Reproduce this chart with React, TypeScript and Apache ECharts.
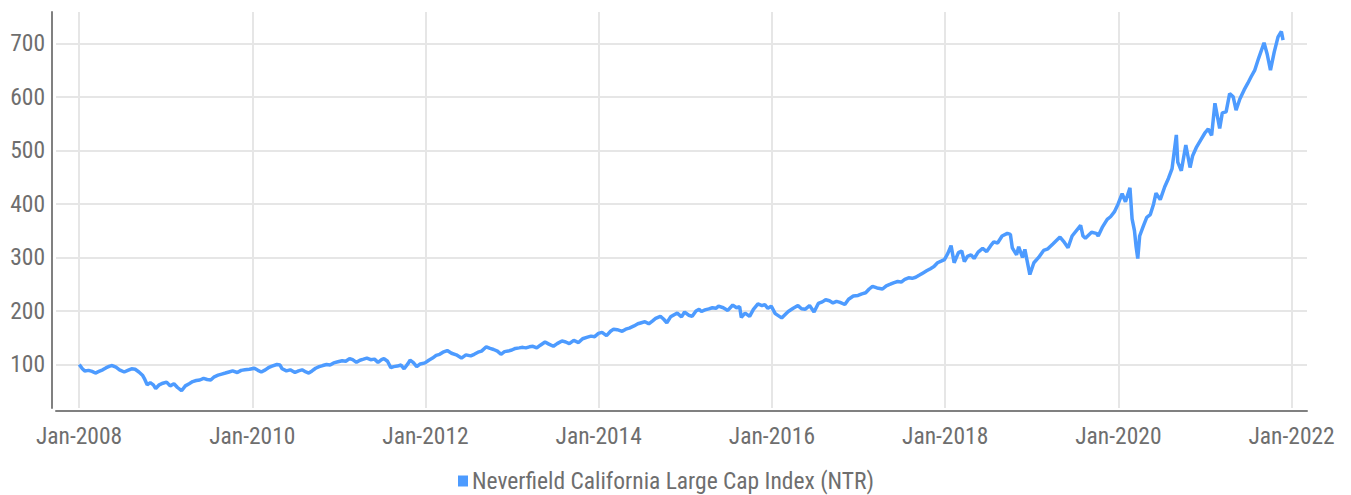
import React, { useEffect, useRef } from "react";
import * as echarts from "echarts";

const SERIES_NAME = "Neverfield California Large Cap Index (NTR)";

const dates: string[] = [
  "2008-01-02","2008-01-15","2008-01-25","2008-02-10","2008-02-25","2008-03-10","2008-03-25","2008-04-10","2008-04-25","2008-05-10","2008-05-20","2008-06-05","2008-06-20","2008-07-10","2008-07-25","2008-08-10","2008-08-25","2008-09-10","2008-09-25","2008-10-05","2008-10-15","2008-10-28","2008-11-10","2008-11-20","2008-12-05","2008-12-20",
  "2009-01-05","2009-01-20","2009-02-05","2009-02-20","2009-03-09","2009-03-25","2009-04-10","2009-04-25","2009-05-10","2009-05-25","2009-06-10","2009-06-25","2009-07-10","2009-07-25","2009-08-10","2009-08-25","2009-09-10","2009-09-25","2009-10-10","2009-10-30","2009-11-15","2009-12-01","2009-12-20",
  "2010-01-10","2010-01-25","2010-02-08","2010-02-25","2010-03-10","2010-03-25","2010-04-15","2010-04-28","2010-05-07","2010-05-25","2010-06-10","2010-06-30","2010-07-15","2010-07-30","2010-08-15","2010-08-27","2010-09-10","2010-09-25","2010-10-10","2010-10-25","2010-11-10","2010-11-25","2010-12-10","2010-12-28",
  "2011-01-15","2011-01-30","2011-02-15","2011-02-28","2011-03-16","2011-03-31","2011-04-15","2011-04-29","2011-05-15","2011-05-31","2011-06-15","2011-06-30","2011-07-10","2011-07-25","2011-08-08","2011-08-20","2011-09-05","2011-09-20","2011-10-03","2011-10-20","2011-10-28","2011-11-10","2011-11-25","2011-12-10","2011-12-30",
  "2012-01-15","2012-01-31","2012-02-15","2012-03-01","2012-03-15","2012-04-02","2012-04-20","2012-05-10","2012-06-01","2012-06-20","2012-07-10","2012-07-25","2012-08-10","2012-08-25","2012-09-14","2012-09-30","2012-10-15","2012-10-31","2012-11-15","2012-11-30","2012-12-15","2012-12-31",
  "2013-01-15","2013-01-31","2013-02-15","2013-02-28","2013-03-15","2013-03-30","2013-04-15","2013-04-30","2013-05-20","2013-06-05","2013-06-24","2013-07-10","2013-07-30","2013-08-15","2013-08-30","2013-09-18","2013-10-08","2013-10-25","2013-11-15","2013-11-30","2013-12-15","2013-12-31",
  "2014-01-15","2014-02-03","2014-02-20","2014-03-05","2014-03-20","2014-04-10","2014-04-25","2014-05-10","2014-05-30","2014-06-15","2014-06-30","2014-07-15","2014-07-31","2014-08-15","2014-08-29","2014-09-18","2014-10-01","2014-10-15","2014-10-31","2014-11-15","2014-11-28","2014-12-16","2014-12-29",
  "2015-01-15","2015-01-30","2015-02-15","2015-02-28","2015-03-10","2015-03-25","2015-04-10","2015-04-25","2015-05-10","2015-05-21","2015-06-10","2015-06-29","2015-07-20","2015-08-05","2015-08-18","2015-08-25","2015-09-10","2015-09-29","2015-10-15","2015-11-03","2015-11-20","2015-12-02","2015-12-15","2015-12-29",
  "2016-01-15","2016-02-11","2016-02-25","2016-03-10","2016-03-31","2016-04-20","2016-05-05","2016-05-20","2016-06-08","2016-06-27","2016-07-15","2016-08-01","2016-08-15","2016-08-31","2016-09-15","2016-09-30","2016-10-15","2016-11-04","2016-11-20","2016-12-10","2016-12-30",
  "2017-01-15","2017-01-31","2017-02-15","2017-03-01","2017-03-20","2017-04-12","2017-04-28","2017-05-15","2017-05-31","2017-06-15","2017-06-30","2017-07-15","2017-07-31","2017-08-15","2017-08-30","2017-09-15","2017-09-30","2017-10-15","2017-10-31","2017-11-15","2017-11-30","2017-12-15","2017-12-29",
  "2018-01-12","2018-01-26","2018-02-08","2018-02-26","2018-03-12","2018-03-23","2018-04-05","2018-04-20","2018-05-03","2018-05-20","2018-06-08","2018-06-25","2018-07-12","2018-07-25","2018-08-10","2018-08-29","2018-09-20","2018-10-03","2018-10-11","2018-10-29","2018-11-07","2018-11-23","2018-12-03","2018-12-24",
  "2019-01-10","2019-01-30","2019-02-20","2019-03-10","2019-03-31","2019-04-30","2019-05-15","2019-06-03","2019-06-20","2019-07-26","2019-08-05","2019-08-15","2019-09-10","2019-09-30","2019-10-08","2019-10-25","2019-11-15","2019-11-29","2019-12-15","2019-12-31",
  "2020-01-17","2020-01-31","2020-02-19","2020-02-28","2020-03-09","2020-03-16","2020-03-23","2020-03-31","2020-04-15","2020-04-30","2020-05-15","2020-05-29","2020-06-08","2020-06-26","2020-07-15","2020-07-31","2020-08-15","2020-09-02","2020-09-08","2020-09-23","2020-10-12","2020-10-30","2020-11-10","2020-11-25","2020-12-15","2020-12-31",
  "2021-01-15","2021-01-29","2021-02-12","2021-03-04","2021-03-15","2021-03-31","2021-04-15","2021-04-30","2021-05-12","2021-05-28","2021-06-15","2021-06-30","2021-07-15","2021-07-30","2021-08-15","2021-09-07","2021-09-20","2021-10-04","2021-10-20","2021-11-05","2021-11-19","2021-11-26",
];

const values: number[] = [
  100,92,88,89,87,84,87,90,94,97,98,95,90,86,89,92,91,86,80,72,62,66,62,55,62,65,
  67,60,64,57,51,60,64,68,70,71,74,72,71,77,80,82,84,86,88,85,89,90,91,
  93,89,86,90,94,97,100,99,92,88,90,85,88,90,86,84,88,93,96,98,100,99,103,105,
  107,106,111,109,104,108,110,112,109,110,104,109,111,106,94,96,97,99,92,102,108,104,96,101,103,
  108,112,117,119,123,126,121,118,112,118,116,119,123,125,133,130,128,125,119,124,125,127,
  130,131,132,131,133,134,131,136,142,138,134,139,144,142,139,145,141,148,151,153,152,158,
  160,154,162,166,165,162,166,168,172,176,178,180,176,181,186,190,185,178,189,193,196,189,198,
  192,190,200,203,199,202,204,206,205,209,206,201,211,206,208,188,196,190,203,213,210,212,205,209,
  195,187,193,199,205,210,204,203,210,198,214,217,221,219,215,218,216,212,222,228,229,
  232,234,241,246,243,241,247,250,253,255,254,259,262,261,263,267,271,275,279,283,290,293,296,
  307,322,290,309,312,292,302,305,298,310,317,311,322,329,327,340,345,343,318,305,320,300,315,268,
  290,300,313,316,325,338,330,318,340,360,340,336,347,345,340,356,371,376,385,400,
  419,404,430,372,350,320,298,340,358,375,380,400,420,408,432,448,466,529,478,462,510,468,490,505,520,532,
  540,528,588,541,570,572,606,600,575,596,613,625,638,650,672,701,680,650,684,712,722,706,
];

const yTickStep = 100;
const xTickStepYears = 2;

function toDecimalYear(d: string): number {
  const [y, m, day] = d.split("-").map(Number);
  const start = Date.UTC(y, 0, 1);
  const end = Date.UTC(y + 1, 0, 1);
  const t = Date.UTC(y, m - 1, day);
  return y + (t - start) / (end - start);
}

const FONT = "'Liberation Sans Narrow', 'Roboto Condensed', 'Roboto', sans-serif";

export default function App() {
  const ref = useRef<HTMLDivElement>(null);
  useEffect(() => {
    if (!ref.current) return;
    const chart = echarts.init(ref.current, undefined, { renderer: "svg" });
    const data = dates.map((d, i) => [toDecimalYear(d), values[i]]);
    chart.setOption({
      animation: false,
      backgroundColor: "#ffffff",
      grid: { left: 56, right: 44, top: 12, bottom: 87, containLabel: false },
      legend: {
        show: true,
        left: 458,
        top: 469,
        padding: 0,
        icon: "rect",
        itemWidth: 10,
        itemHeight: 11,
        itemGap: 10,
        textStyle: { color: "#6e6e6e", fontSize: 23.5, fontFamily: FONT, padding: [0, 0, 0, -1] },
        data: [SERIES_NAME],
      },
      xAxis: {
        type: "value",
        min: 2007.734,
        max: 2022.178,
        minInterval: xTickStepYears,
        maxInterval: xTickStepYears,
        offset: 3,
        axisLine: { show: true, lineStyle: { color: "#808080", width: 2 } },
        axisTick: { show: false },
        axisLabel: {
          color: "#6e6e6e",
          fontSize: 23.5,
          fontFamily: FONT,
          margin: 13,
          showMinLabel: false,
          showMaxLabel: false,
          formatter: (v: number) =>
            Math.abs(v - Math.round(v)) < 1e-6 ? `Jan-${Math.round(v)}` : "",
        },
        splitLine: {
          show: true,
          showMinLine: false,
          showMaxLine: false,
          lineStyle: { color: "#e6e6e6", width: 2 },
        },
      },
      yAxis: {
        type: "value",
        min: 18.7,
        max: 758.5,
        minInterval: yTickStep,
        maxInterval: yTickStep,
        offset: 4,
        axisLine: { show: true, lineStyle: { color: "#808080", width: 2 } },
        axisTick: { show: false },
        axisLabel: {
          color: "#6e6e6e",
          fontSize: 23.5,
          fontFamily: FONT,
          margin: 7,
          showMinLabel: false,
          showMaxLabel: false,
          formatter: (v: number) =>
            Math.abs(v / yTickStep - Math.round(v / yTickStep)) < 1e-6 ? String(Math.round(v)) : "",
        },
        splitLine: {
          show: true,
          showMinLine: false,
          showMaxLine: false,
          lineStyle: { color: "#e6e6e6", width: 2 },
        },
      },
      series: [
        {
          name: SERIES_NAME,
          type: "line",
          data,
          showSymbol: false,
          symbol: "none",
          color: "#4d9bff",
          lineStyle: { color: "#4d9bff", width: 3.5 },
        },
      ],
    });
    return () => chart.dispose();
  }, []);
  return (
    <div
      ref={ref}
      style={{ position: "absolute", left: 0, top: 0, width: 1351, height: 495 }}
    />
  );
}
